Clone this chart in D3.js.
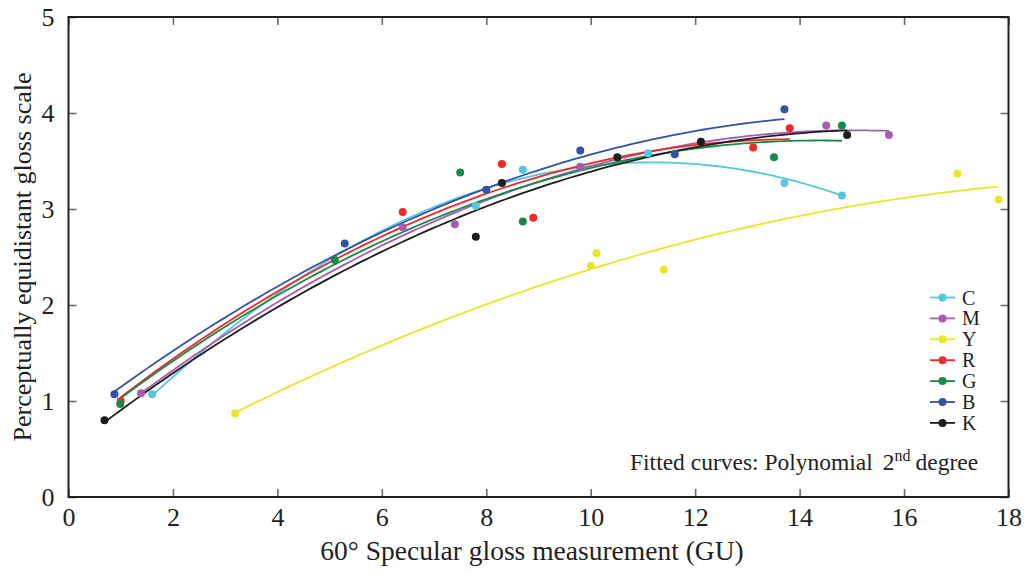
<!DOCTYPE html>
<html>
<head>
<meta charset="utf-8">
<script src="https://cdn.jsdelivr.net/npm/d3@7"></script>
<style>
  html, body { margin: 0; padding: 0; background: #fff; }
  svg { display: block; font-family: "Liberation Serif", "DejaVu Serif", serif; }
</style>
</head>
<body>
<svg id="chart" width="1027" height="574"></svg>
<script>
// Ink series measured against 60° specular gloss
const seriesNames = ["C", "M", "Y", "R", "G", "B", "K"];
const seriesColors = ["#58c6da", "#a65db0", "#e9e52c", "#ec2a2c", "#188a47", "#3252a3", "#1f1c1d"];

const glossC = [1.60, 7.80, 8.70, 11.10, 13.71, 14.81];
const scaleC = [1.07, 3.03, 3.41, 3.58, 3.27, 3.14];
const glossM = [1.39, 6.40, 7.40, 9.80, 14.51, 15.71];
const scaleM = [1.08, 2.81, 2.84, 3.44, 3.87, 3.77];
const glossY = [3.19, 10.00, 10.11, 11.40, 17.02, 17.81];
const scaleY = [0.87, 2.41, 2.54, 2.37, 3.37, 3.10];
const glossR = [1.00, 6.40, 8.30, 8.90, 13.11, 13.81];
const scaleR = [1.00, 2.97, 3.47, 2.91, 3.64, 3.84];
const glossG = [0.99, 5.10, 7.50, 8.70, 13.51, 14.81];
const scaleG = [0.97, 2.47, 3.38, 2.87, 3.54, 3.87];
const glossB = [0.88, 5.29, 8.00, 9.80, 11.61, 13.71];
const scaleB = [1.07, 2.64, 3.20, 3.61, 3.57, 4.04];
const glossK = [0.69, 7.80, 8.30, 10.51, 12.11, 14.91];
const scaleK = [0.80, 2.71, 3.27, 3.54, 3.70, 3.77];

const xTicks = [0, 2, 4, 6, 8, 10, 12, 14, 16, 18];
const yTicks = [0, 1, 2, 3, 4, 5];

const glossData = [glossC, glossM, glossY, glossR, glossG, glossB, glossK];
const scaleData = [scaleC, scaleM, scaleY, scaleR, scaleG, scaleB, scaleK];

const series = seriesNames.map((name, i) => ({
  name,
  color: seriesColors[i],
  points: glossData[i].map((x, j) => ({ x, y: scaleData[i][j] }))
}));

// Least-squares polynomial of 2nd degree: y = a + b x + c x^2
function quadFit(pts) {
  let s0 = 0, s1 = 0, s2 = 0, s3 = 0, s4 = 0, t0 = 0, t1 = 0, t2 = 0;
  pts.forEach(p => {
    const x = p.x, y = p.y, x2 = x * x;
    s0 += 1; s1 += x; s2 += x2; s3 += x2 * x; s4 += x2 * x2;
    t0 += y; t1 += x * y; t2 += x2 * y;
  });
  const M = [[s0, s1, s2, t0], [s1, s2, s3, t1], [s2, s3, s4, t2]];
  for (let i = 0; i < 3; i++) {
    let piv = i;
    for (let r = i + 1; r < 3; r++) if (Math.abs(M[r][i]) > Math.abs(M[piv][i])) piv = r;
    [M[i], M[piv]] = [M[piv], M[i]];
    for (let r = 0; r < 3; r++) {
      if (r === i) continue;
      const f = M[r][i] / M[i][i];
      for (let c = i; c < 4; c++) M[r][c] -= f * M[i][c];
    }
  }
  const a = M[0][3] / M[0][0], b = M[1][3] / M[1][1], c = M[2][3] / M[2][2];
  return x => a + b * x + c * x * x;
}

const svg = d3.select("#chart");
const plotLeft = 68.5, plotRight = 1008.5, plotTop = 17, plotBottom = 497;

const x = d3.scaleLinear().domain([0, 18]).range([plotLeft, plotRight]);
const y = d3.scaleLinear().domain([0, 5]).range([plotBottom, plotTop]);

// Fitted curves
const line = d3.line().x(d => x(d.x)).y(d => y(d.y));
const curves = svg.append("g");
series.forEach(s => {
  const f = quadFit(s.points);
  const [x0, x1] = d3.extent(s.points, p => p.x);
  const samples = d3.range(0, 101).map(k => {
    const xv = x0 + (x1 - x0) * k / 100;
    return { x: xv, y: f(xv) };
  });
  curves.append("path")
    .datum(samples)
    .attr("d", line)
    .attr("fill", "none")
    .attr("stroke", s.color)
    .attr("stroke-width", 1.8);
});

// Measured points
const dots = svg.append("g");
series.forEach(s => {
  dots.selectAll(null)
    .data(s.points)
    .enter()
    .append("circle")
    .attr("cx", d => x(d.x))
    .attr("cy", d => y(d.y))
    .attr("r", 4)
    .attr("fill", s.color);
});

// Axes box with inward ticks on all four sides
const tickLen = 8;
const fmt = d3.format("d");
const axes = svg.append("g");
const bottomAxis = axes.append("g").attr("transform", `translate(0,${plotBottom})`)
  .call(d3.axisBottom(x).tickValues(xTicks).tickFormat(fmt).tickSizeInner(-tickLen).tickSizeOuter(0).tickPadding(10));
const topAxis = axes.append("g").attr("transform", `translate(0,${plotTop})`)
  .call(d3.axisTop(x).tickValues(xTicks).tickSizeInner(-tickLen).tickSizeOuter(0).tickFormat(""));
const leftAxis = axes.append("g").attr("transform", `translate(${plotLeft},0)`)
  .call(d3.axisLeft(y).tickValues(yTicks).tickFormat(fmt).tickSizeInner(-tickLen).tickSizeOuter(0).tickPadding(14));
const rightAxis = axes.append("g").attr("transform", `translate(${plotRight},0)`)
  .call(d3.axisRight(y).tickValues(yTicks).tickSizeInner(-tickLen).tickSizeOuter(0).tickFormat(""));

axes.selectAll(".domain").remove();
axes.selectAll(".tick line").attr("stroke", "#6b6b6b").attr("stroke-width", 1.6);
axes.selectAll(".tick text")
  .attr("font-family", "Liberation Serif, serif")
  .attr("font-size", 26)
  .attr("fill", "#231f20");
bottomAxis.selectAll(".tick text").attr("dy", "0.72em");
leftAxis.selectAll(".tick text").attr("dy", "0.34em");

axes.append("rect")
  .attr("x", plotLeft).attr("y", plotTop)
  .attr("width", plotRight - plotLeft).attr("height", plotBottom - plotTop)
  .attr("fill", "none")
  .attr("stroke", "#231f20")
  .attr("stroke-width", 2);

// Axis titles
svg.append("text")
  .attr("x", 532)
  .attr("y", 560)
  .attr("text-anchor", "middle")
  .attr("font-size", 27.5)
  .attr("fill", "#231f20")
  .text("60° Specular gloss measurement (GU)");

svg.append("text")
  .attr("transform", `translate(31,${(plotTop + plotBottom) / 2}) rotate(-90)`)
  .attr("text-anchor", "middle")
  .attr("font-size", 26)
  .attr("fill", "#231f20")
  .text("Perceptually equidistant gloss scale");

// Legend
const legend = svg.append("g");
series.forEach((s, i) => {
  const ly = 297.5 + i * 20.9;
  const g = legend.append("g").attr("transform", `translate(0,${ly})`);
  g.append("line").attr("x1", 930).attr("x2", 955).attr("y1", 0).attr("y2", 0)
    .attr("stroke", s.color).attr("stroke-width", 1.8);
  g.append("circle").attr("cx", 942.5).attr("cy", 0).attr("r", 4).attr("fill", s.color);
  g.append("text").attr("x", 962).attr("y", 0).attr("dy", "0.35em")
    .attr("font-size", 20).attr("fill", "#231f20").text(s.name);
});

// Annotation
const note = svg.append("text")
  .attr("x", 630).attr("y", 470)
  .attr("font-size", 23.5)
  .attr("fill", "#231f20");
note.append("tspan").text("Fitted curves: Polynomial ");
note.append("tspan").attr("dx", 4).text("2");
note.append("tspan").attr("dy", -9).attr("font-size", 16).text("nd");
note.append("tspan").attr("dy", 9).attr("dx", 5).text("degree");
</script>
</body>
</html>
